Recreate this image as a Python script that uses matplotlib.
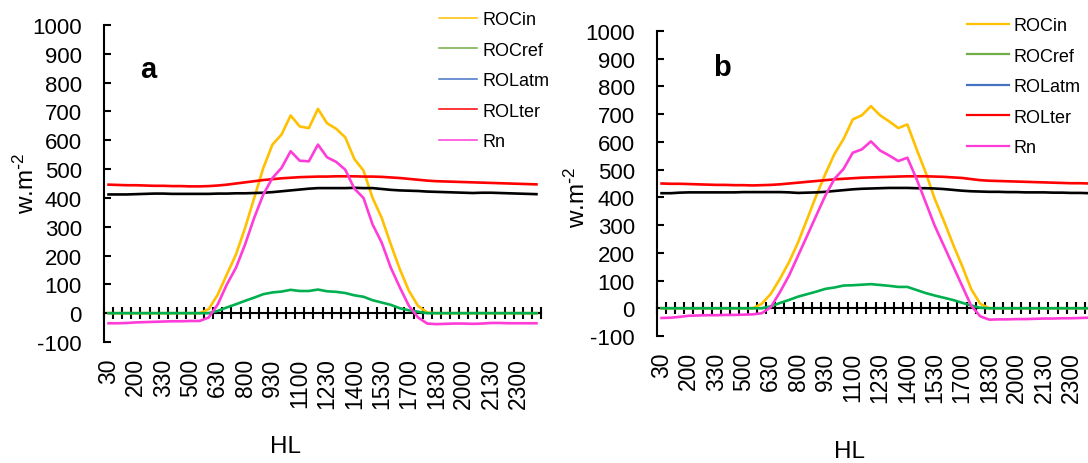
import numpy as np
import matplotlib.pyplot as plt
from matplotlib.lines import Line2D

plt.rcParams['font.family'] = ['Liberation Sans', 'DejaVu Sans']
plt.rcParams['mathtext.default'] = 'regular'
plt.rcParams['axes.unicode_minus'] = False

# Half-hourly local time (HL) categories
hl = ["30", "100", "130", "200", "230", "300", "330", "400", "430", "500",
      "530", "600", "630", "700", "730", "800", "830", "900", "930", "1000",
      "1030", "1100", "1130", "1200", "1230", "1300", "1330", "1400", "1430", "1500",
      "1530", "1600", "1630", "1700", "1730", "1800", "1830", "1900", "1930", "2000",
      "2030", "2100", "2130", "2200", "2230", "2300", "2330", "2400"]
label_step = 3

# Panel a (w.m-2)
a_rocin = [0, 0, 0, 0, 0, 0, 0, 0, 0, 0, 0,
           14, 65, 135, 204, 296, 400, 504, 585, 620, 686, 648, 642, 709, 659,
           640, 610, 535, 495, 400, 331, 239, 152, 77, 25, 2,
           0, 0, 0, 0, 0, 0, 0, 0, 0, 0, 0, 0]
a_rocref = [0, 0, 0, 0, 0, 0, 0, 0, 0, 0, 0, 0,
            8, 20, 31, 43, 54, 66, 72, 75, 81, 77, 77, 82, 76, 74, 70, 62,
            57, 45, 37, 29, 17, 10, 5,
            0, 0, 0, 0, 0, 0, 0, 0, 0, 0, 0, 0, 0]
a_rolatm = [412, 412, 412, 413, 414, 415, 415, 414, 414, 414, 414, 414,
            415, 415, 416, 416, 417, 418, 420, 423, 426, 429, 432, 434,
            434, 434, 434, 435, 434, 434, 431, 428, 426, 425,
            424, 422, 421, 420, 419, 418, 417, 418, 418, 417, 416, 415, 414, 413]
a_rolter = [446, 445, 444, 444, 443, 442, 442, 441, 441, 440, 440, 441,
            443, 446, 450, 454, 458, 462, 465, 468, 470, 472, 473, 474,
            474, 475, 475, 475, 474, 474, 473, 471, 469, 466, 463, 460,
            458, 457, 456, 455, 454, 453, 452, 451, 450, 449, 448, 447]
a_rn = [-35, -35, -34, -32, -31, -30, -29, -28, -28, -27, -27,
        -15, 31, 100, 158, 239, 331, 412, 469, 504, 562, 529, 527, 585, 541,
        525, 498, 432, 400, 308, 245, 158, 89, 25, -15, -36,
        -38, -37, -36, -36, -37, -36, -34, -34, -35, -35, -35, -35]

# Panel b (w.m-2)
b_rocin = [0, 0, 0, 0, 0, 0, 0, 0, 0, 0, 0,
           16, 52, 106, 166, 238, 322, 407, 485, 557, 611, 681, 696, 729, 696,
           674, 650, 663, 575, 491, 395, 316, 232, 154, 70, 16,
           0, 0, 0, 0, 0, 0, 0, 0, 0, 0, 0, 0]
b_rocref = [0, 0, 0, 0, 0, 0, 0, 0, 0, 0, 0, 0,
            7, 19, 30, 42, 51, 60, 70, 75, 82, 83, 85, 87, 84, 81, 77, 77,
            66, 55, 46, 38, 30, 20, 10, 2,
            0, 0, 0, 0, 0, 0, 0, 0, 0, 0, 0, 0]
b_rolatm = [415, 415, 417, 418, 418, 418, 418, 418, 418, 419, 419, 419,
            419, 419, 418, 416, 417, 418, 420, 423, 426, 429, 431, 432,
            433, 434, 434, 434, 433, 433, 432, 430, 427, 424,
            422, 421, 420, 420, 419, 419, 418, 418, 418, 417, 417, 416, 416, 415]
b_rolter = [450, 449, 449, 448, 447, 446, 445, 445, 444, 444, 443,
            444, 445, 447, 450, 453, 456, 459, 462, 465, 467, 469, 471, 472,
            473, 474, 475, 476, 476, 476, 475, 474, 472, 470,
            466, 462, 460, 459, 458, 457, 456, 455, 454, 453, 452, 451, 451, 450]
b_rn = [-35, -34, -31, -27, -26, -25, -25, -24, -24, -23, -22,
        -18, 4, 58, 118, 190, 262, 335, 407, 467, 503, 561, 573, 602, 569,
        551, 531, 543, 467, 383, 298, 226, 154, 82, 10, -29,
        -41, -40, -40, -39, -39, -38, -37, -37, -36, -36, -35, -34]

series_names = ["ROCin", "ROCref", "ROLatm", "ROLter", "Rn"]
line_colors = ["#FFC000", "#00B050", "#000000", "#FF0000", "#FF3CD8"]
legend_colors = ["#FFC000", "#70AD47", "#4472C4", "#FF0000", "#FF3CD8"]

# Figure laid out in pixels (100 dpi)
W, H = 1088, 464
fig = plt.figure(figsize=(W / 100, H / 100), dpi=100)


def fx(px):
    return px / W


def fy(py):
    return 1 - py / H


panels = [
    dict(tag="a", series=[a_rocin, a_rocref, a_rolatm, a_rolter, a_rn],
         box=(104, 541, 26, 343), tag_xy=(148, 70), ylab_xy=(26, 183),
         xlab_xy=(285, 447), leg_xy=(439, 12), leg_lw=1.1, leg_len=2.1),
    dict(tag="b", series=[b_rocin, b_rocref, b_rolatm, b_rolter, b_rn],
         box=(657, 1094, 32, 337), tag_xy=(722, 68), ylab_xy=(577, 197),
         xlab_xy=(850, 452), leg_xy=(967, 18), leg_lw=1.6, leg_len=2.3),
]

x = np.arange(len(hl))

for p in panels:
    left, right, top, bottom = p["box"]
    ax = fig.add_axes([fx(left), fy(bottom), fx(right - left), (bottom - top) / H])
    ax.patch.set_alpha(0)

    for vals, col in zip(p["series"], line_colors):
        ax.plot(x, vals, color=col, lw=1.9, zorder=3)

    ax.set_xlim(-0.5, len(hl) - 0.5)
    ax.set_ylim(-100, 1000)
    ax.set_yticks(range(-100, 1001, 100))
    ax.tick_params(axis="y", direction="in", length=5, width=1.5, labelsize=16, pad=16)

    # category axis crossing at zero, tick marks between categories
    ax.spines["bottom"].set_position(("data", 0))
    ax.spines["bottom"].set_linewidth(1.5)
    ax.spines["left"].set_linewidth(1.5)
    ax.spines[["top", "right"]].set_visible(False)
    ax.set_xticks(np.arange(-0.5, len(hl)))
    ax.tick_params(axis="x", direction="inout", length=9, width=1.5, labelbottom=False)

    # time labels kept at the bottom of the plot
    lab = ax.twiny()
    lab.set_xlim(ax.get_xlim())
    lab.xaxis.tick_bottom()
    lab.set_xticks(x[::label_step], labels=hl[::label_step], rotation=90)
    lab.tick_params(axis="x", length=0, labelsize=16.5, pad=11)
    for s in lab.spines.values():
        s.set_visible(False)

    ax.set_ylabel("w.m$^{\\text{-}2}$", fontsize=17.5, va="center", ha="center")
    ax.yaxis.set_label_coords(fx(p["ylab_xy"][0]), fy(p["ylab_xy"][1]),
                              transform=fig.transFigure)
    ax.set_xlabel("HL", fontsize=17.5, va="center", ha="center")
    ax.xaxis.set_label_coords(fx(p["xlab_xy"][0]), fy(p["xlab_xy"][1]),
                              transform=fig.transFigure)

    fig.text(fx(p["tag_xy"][0]), fy(p["tag_xy"][1]), p["tag"], fontsize=21,
             fontweight="bold", ha="center", va="center")

    handles = [Line2D([], [], color=c, lw=p["leg_lw"]) for c in legend_colors]
    ax.legend(handles, series_names, loc="upper left",
              bbox_to_anchor=(fx(p["leg_xy"][0]), fy(p["leg_xy"][1])),
              bbox_transform=fig.transFigure, frameon=False, fontsize=13,
              handlelength=p["leg_len"], handletextpad=0.3, labelspacing=0.75,
              borderpad=0, borderaxespad=0)

fig.savefig("out.png", dpi=100)
